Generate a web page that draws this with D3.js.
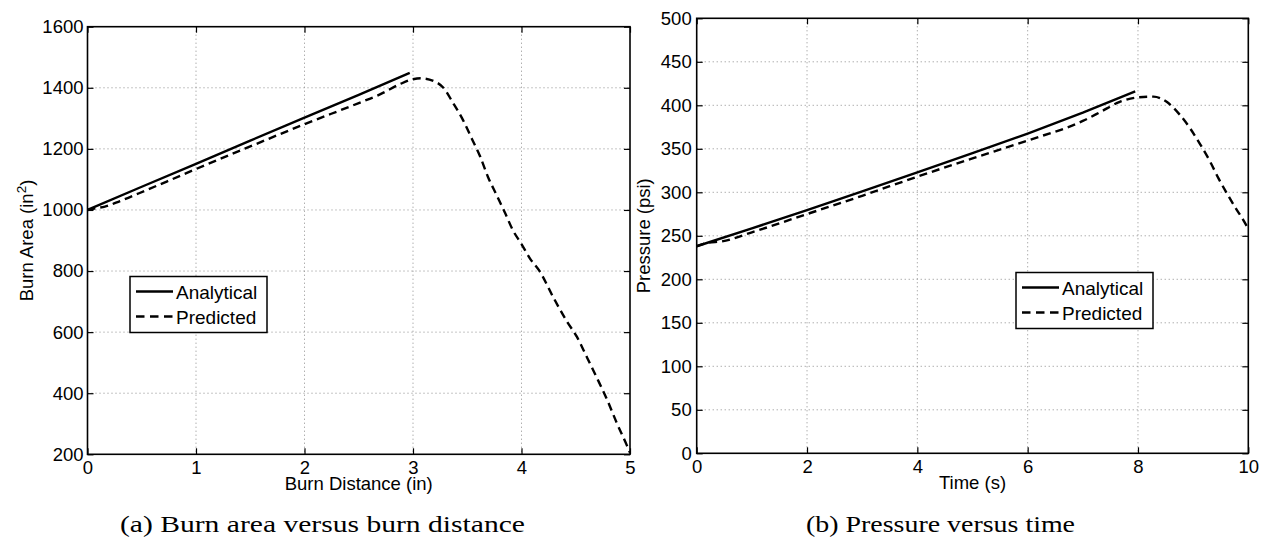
<!DOCTYPE html>
<html>
<head>
<meta charset="utf-8">
<script src="https://cdn.jsdelivr.net/npm/d3@7"></script>
<style>
  html, body { margin: 0; padding: 0; background: #fff; }
  svg { display: block; }
  .tick text { font-family: "Liberation Sans", Arial, sans-serif; font-size: 18.5px; fill: #000; }
  .lbl { font-family: "Liberation Sans", Arial, sans-serif; font-size: 18.5px; fill: #000; }
  .leg { font-family: "Liberation Sans", Arial, sans-serif; font-size: 19px; fill: #000; }
  .cap { font-family: "Liberation Serif", "Times New Roman", serif; font-size: 23.5px; fill: #000; }
</style>
</head>
<body>
<svg id="fig" width="1262" height="539"></svg>
<script>
// (a) Burn area versus burn distance
const distTicks = [0, 1, 2, 3, 4, 5];
const areaTicks = [200, 400, 600, 800, 1000, 1200, 1400, 1600];
const analyticalDist = [0, 0.5, 1, 1.5, 2, 2.5, 2.97];
const analyticalArea = [1000, 1076, 1151, 1227, 1302, 1377, 1449];
const predictedDist = [0, 0.08, 0.16, 0.3, 0.55, 0.73, 1.0, 1.5, 2.0, 2.5, 2.7, 2.88, 3.0, 3.07, 3.19, 3.28, 3.37, 3.46, 3.54, 3.62, 3.69, 3.77, 3.85, 3.92, 4.0, 4.08, 4.17, 4.29, 4.42, 4.51, 4.6, 4.69, 4.79, 4.88, 4.97, 5.0];
const predictedArea = [1000, 1006, 1011, 1029, 1066, 1093, 1134, 1208, 1281, 1350, 1379, 1412, 1428, 1431, 1422, 1400, 1350, 1295, 1235, 1174, 1109, 1049, 989, 934, 888, 840, 798, 716, 634, 585, 520, 454, 378, 301, 230, 205];

// (b) Pressure versus time
const timeTicks = [0, 2, 4, 6, 8, 10];
const pressTicks = [0, 50, 100, 150, 200, 250, 300, 350, 400, 450, 500];
const analyticalTime = [0, 1, 2, 3, 4, 5, 6, 7, 7.95];
const analyticalPress = [238, 258.5, 279.5, 301, 323, 345, 367.5, 391.5, 416];
const predictedTime = [0, 0.2, 0.45, 1, 2, 3, 4, 5, 6, 7, 7.31, 7.67, 7.98, 8.28, 8.52, 8.76, 8.94, 9.12, 9.31, 9.46, 9.61, 9.76, 9.91, 10];
const predictedPress = [238, 242, 243.5, 254, 275, 296, 318, 339, 359.5, 382, 392, 404, 409, 410, 404, 389, 374, 356, 335, 316, 299, 283, 268, 258];

const seriesNames = ["Analytical", "Predicted"];

const svg = d3.select("#fig");

function panel(opts) {
  const { box, xDomain, yDomain, xTicks, yTicks, series, xLabel, yLabel, legend, caption, labelPadY } = opts;
  const x = d3.scaleLinear().domain(xDomain).range([box.x0, box.x1]);
  const y = d3.scaleLinear().domain(yDomain).range([box.y1, box.y0]);
  const g = svg.append("g");

  // dotted grid
  const grid = g.append("g").attr("stroke", "#8c8c8c").attr("stroke-width", 1)
    .attr("stroke-dasharray", "1,3");
  grid.selectAll("line.v").data(xTicks.slice(1, -1)).join("line")
    .attr("x1", d => x(d)).attr("x2", d => x(d))
    .attr("y1", box.y0).attr("y2", box.y1);
  grid.selectAll("line.h").data(yTicks.slice(1, -1)).join("line")
    .attr("y1", d => y(d)).attr("y2", d => y(d))
    .attr("x1", box.x0).attr("x2", box.x1);

  // axes with inward ticks on all four sides
  const tick = 6;
  const fmt = d3.format("d");
  const ax = g.append("g").attr("transform", `translate(0,${box.y1})`)
    .call(d3.axisBottom(x).tickValues(xTicks).tickFormat(fmt).tickSizeInner(-tick).tickSizeOuter(0).tickPadding(7));
  const ay = g.append("g").attr("transform", `translate(${box.x0},0)`)
    .call(d3.axisLeft(y).tickValues(yTicks).tickFormat(fmt).tickSizeInner(-tick).tickSizeOuter(0).tickPadding(labelPadY));
  const at = g.append("g").attr("transform", `translate(0,${box.y0})`)
    .call(d3.axisTop(x).tickValues(xTicks).tickFormat("").tickSizeInner(-tick).tickSizeOuter(0));
  const ar = g.append("g").attr("transform", `translate(${box.x1},0)`)
    .call(d3.axisRight(y).tickValues(yTicks).tickFormat("").tickSizeInner(-tick).tickSizeOuter(0));
  [ax, ay, at, ar].forEach(a => {
    a.select(".domain").remove();
    a.selectAll(".tick line").attr("stroke", "#000").attr("stroke-width", 1.2);
    a.attr("font-family", null).attr("font-size", null);
  });

  // curves
  const clipId = "clip" + Math.round(box.x0);
  g.append("clipPath").attr("id", clipId).append("rect")
    .attr("x", box.x0).attr("y", box.y0 - 2)
    .attr("width", box.x1 - box.x0).attr("height", box.y1 - box.y0 + 4);
  const plot = g.append("g").attr("clip-path", `url(#${clipId})`);
  series.forEach(s => {
    const pts = s.xs.map((v, i) => [v, s.ys[i]]);
    const line = d3.line().x(d => x(d[0])).y(d => y(d[1]))
      .curve(s.dashed ? d3.curveMonotoneX : d3.curveLinear);
    plot.append("path").datum(pts)
      .attr("d", line)
      .attr("fill", "none").attr("stroke", "#000").attr("stroke-width", 2.4)
      .attr("stroke-linejoin", "round")
      .attr("stroke-dasharray", s.dashed ? "8,5" : null);
  });

  // frame
  g.append("rect").attr("x", box.x0).attr("y", box.y0)
    .attr("width", box.x1 - box.x0).attr("height", box.y1 - box.y0)
    .attr("fill", "none").attr("stroke", "#000").attr("stroke-width", 1.6);

  // axis labels
  g.append("text").attr("class", "lbl")
    .attr("x", (box.x0 + box.x1) / 2).attr("y", box.y1 + 35.5)
    .attr("text-anchor", "middle").text(xLabel);
  const yl = g.append("text").attr("class", "lbl")
    .attr("transform", `translate(${yLabel.x},${(box.y0 + box.y1) / 2}) rotate(-90)`)
    .attr("text-anchor", "middle");
  yl.append("tspan").text(yLabel.text);
  if (yLabel.sup) {
    yl.append("tspan").attr("dy", -7).attr("font-size", 13.5).text(yLabel.sup);
    yl.append("tspan").attr("dy", 7).text(")");
  }

  // legend
  const lg = g.append("g").attr("transform", `translate(${legend.x},${legend.y})`);
  lg.append("rect").attr("width", 137).attr("height", 56)
    .attr("fill", "#fff").attr("stroke", "#000").attr("stroke-width", 1.5);
  seriesNames.forEach((name, i) => {
    const yy = 15 + i * 25;
    lg.append("line").attr("x1", 6).attr("x2", 43).attr("y1", yy).attr("y2", yy)
      .attr("stroke", "#000").attr("stroke-width", 2.4)
      .attr("stroke-dasharray", i === 1 ? "8.5,5.5" : null);
    lg.append("text").attr("class", "leg").attr("x", 46).attr("y", yy + 7).text(name);
  });

  // caption
  svg.append("text").attr("class", "cap")
    .attr("x", caption.x).attr("y", 532)
    .attr("textLength", caption.w).attr("lengthAdjust", "spacingAndGlyphs")
    .text(caption.text);
}

panel({
  box: { x0: 87.5, x1: 630, y0: 26.7, y1: 454.3 },
  xDomain: [0, 5], yDomain: [200, 1600],
  xTicks: distTicks, yTicks: areaTicks,
  series: [
    { xs: analyticalDist, ys: analyticalArea, dashed: false },
    { xs: predictedDist, ys: predictedArea, dashed: true }
  ],
  xLabel: "Burn Distance (in)",
  yLabel: { text: "Burn Area (in", sup: "2", x: 33 },
  legend: { x: 130, y: 276.5 },
  caption: { text: "(a) Burn area versus burn distance", x: 120, w: 405 },
  labelPadY: 4
});

panel({
  box: { x0: 696.7, x1: 1248.3, y0: 18.3, y1: 453.3 },
  xDomain: [0, 10], yDomain: [0, 500],
  xTicks: timeTicks, yTicks: pressTicks,
  series: [
    { xs: analyticalTime, ys: analyticalPress, dashed: false },
    { xs: predictedTime, ys: predictedPress, dashed: true }
  ],
  xLabel: "Time (s)",
  yLabel: { text: "Pressure (psi)", x: 650 },
  legend: { x: 1016, y: 272.5 },
  caption: { text: "(b) Pressure versus time", x: 806, w: 269 },
  labelPadY: 5
});
</script>
</body>
</html>
